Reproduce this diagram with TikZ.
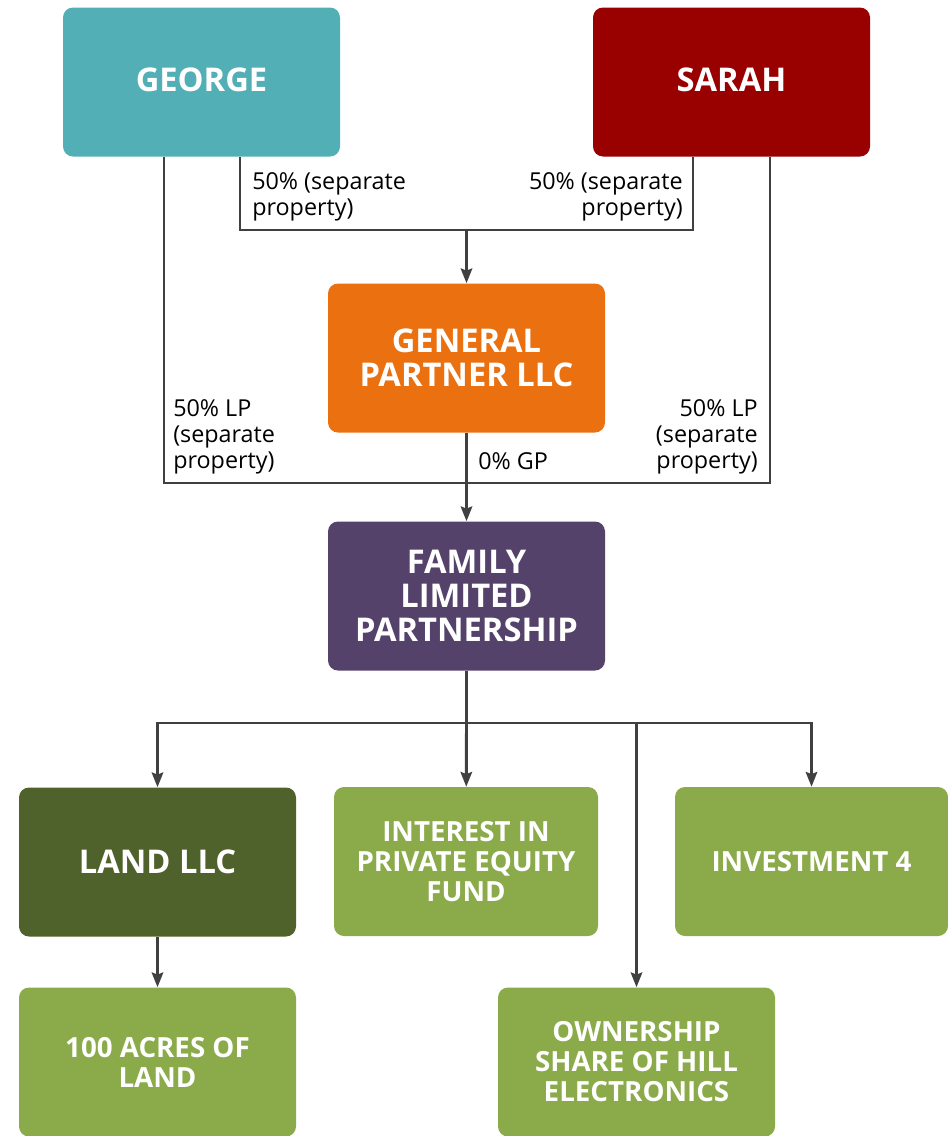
\documentclass[tikz,border=0pt]{standalone}
\usepackage{fontspec}
\setmainfont{Open Sans}
\usepackage{xcolor}
\usepackage{tikz}
\usetikzlibrary{arrows.meta,positioning,calc}

\definecolor{georgeteal}{HTML}{52AFB5}
\definecolor{sarahred}{HTML}{990000}
\definecolor{gporange}{HTML}{EB7010}
\definecolor{flppurple}{HTML}{54426B}
\definecolor{landgreen}{HTML}{50622B}
\definecolor{assetgreen}{HTML}{8BAA4A}
\definecolor{linegray}{HTML}{404040}

\begin{document}
\begin{tikzpicture}[x=0.75pt,y=-0.75pt,
		entity/.style={rounded corners=7.5pt,text=white,align=center,inner sep=0pt,minimum width=207.75pt,minimum height=111.75pt,font=\bfseries\fontsize{24.5}{25.5}\selectfont},
		asset/.style={entity,fill=assetgreen,font=\bfseries\fontsize{20.8}{22.5}\selectfont},
		lbl/.style={inner sep=0pt,text=black,font=\fontsize{17.5}{19.5}\selectfont},
		link/.style={draw=linegray,line width=2.2pt},
		arrowlink/.style={link,-{Stealth[length=11pt,width=8.5pt,inset=1.5pt]}}]
		\useasboundingbox (0,0) rectangle (948,1136);
		% owners
		\node[entity,fill=georgeteal] (george) at (201.5,82) {\raisebox{3pt}{GEORGE}};
		\node[entity,fill=sarahred] (sarah) at (731.5,82) {\raisebox{3pt}{SARAH}};
		% partnership
		\node[entity,fill=gporange] (gp) at (466.5,358) {GENERAL\\PARTNER LLC};
		\node[entity,fill=flppurple] (flp) at (466.5,596) {FAMILY\\LIMITED\\PARTNERSHIP};
		% holdings
		\node[entity,fill=landgreen] (land) at (157.5,862) {LAND LLC};
		\node[asset,minimum width=198pt] (pe) at (466,861.5) {INTEREST IN\\PRIVATE EQUITY\\FUND};
		\node[asset,minimum width=204.75pt] (inv) at (811.5,861.5) {INVESTMENT 4};
		\node[asset] (acres) at (157.5,1062) {100 ACRES OF\\LAND};
		\node[asset] (hill) at (636.5,1062) {OWNERSHIP\\SHARE OF HILL\\ELECTRONICS};

		\coordinate (topbar) at (466.5,230);
		\coordinate (lpbar) at (466.5,483);
		\coordinate (bus) at (466.5,723);

		\draw[link] ([xshift=28.875pt]george.south) |- (topbar) -| ([xshift=-28.875pt]sarah.south);
		\draw[arrowlink] (topbar) -- (gp);
		\draw[link] ([xshift=-28.125pt]george.south) |- (lpbar) -| ([xshift=28.875pt]sarah.south);
		\draw[arrowlink] (gp) -- (flp);
		\draw[link] (flp) -- (bus);
		\draw[arrowlink] (bus) -| (land);
		\draw[arrowlink] (bus) -- (pe);
		\draw[arrowlink] (bus) -| (hill);
		\draw[arrowlink] (bus) -| (inv);
		\draw[arrowlink] (land) -- (acres);

		% ownership shares
		\node[lbl,anchor=north west,align=left] (gsep) at (252,172) {50\% (separate\\property)};
		\node[lbl,anchor=north east,align=right] (ssep) at (683,172) {50\% (separate\\property)};
		\node[lbl,anchor=north west,align=left] (glp) at (173,399) {50\% LP\\(separate\\property)};
		\node[lbl,anchor=north east,align=right] (slp) at (758,399) {50\% LP\\(separate\\property)};
		\node[lbl,anchor=north west] (gpshare) at (478,452) {0\% GP};
\end{tikzpicture}
\end{document}
